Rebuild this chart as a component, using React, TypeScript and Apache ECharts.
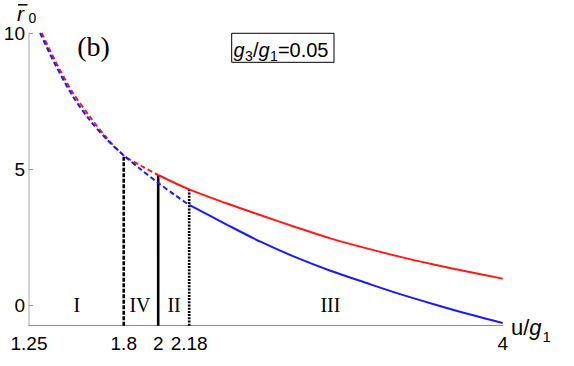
import React, { useEffect, useRef } from "react";
import * as echarts from "echarts";

// ---- data ----
const redU = [1.324, 1.4, 1.5, 1.6, 1.7, 1.8, 1.9, 2.0, 2.18, 2.4, 2.6, 2.8, 3.0, 3.2, 3.4, 3.6, 3.8, 4.0];
const redV = [10, 9.0, 7.85, 6.95, 6.15, 5.5, 5.12, 4.78, 4.25, 3.73, 3.29, 2.86, 2.45, 2.1, 1.78, 1.49, 1.22, 0.97];
const blueU = [1.314, 1.4, 1.5, 1.6, 1.7, 1.8, 1.9, 2.0, 2.1, 2.18, 2.4, 2.6, 2.8, 3.0, 3.2, 3.4, 3.6, 3.8, 4.0];
const blueV = [10, 8.87, 7.72, 6.82, 6.1, 5.5, 4.98, 4.49, 4.03, 3.68, 2.95, 2.31, 1.75, 1.26, 0.83, 0.41, 0.03, -0.33, -0.66];
const redSolidFrom = 2.0;
const blueSolidFrom = 2.18;

const boundaryU = [1.8, 2.0, 2.18];
const boundaryTop = [5.5, 4.78, 4.25];
const regionNames = ["I", "IV", "II", "III"];
const regionU = [1.527, 1.894, 2.092, 3.0];
const regionV = [0, 0, 0, 0];

const xTicks = [1.25, 1.8, 2, 2.18, 4];
const yTicks = [0, 5, 10];
const xMin = 1.25;
const xMax = 4;
const yMin = -0.76;
const yMax = 10;

function pairs(us: number[], vs: number[], lo: number, hi: number) {
  const out: number[][] = [];
  us.forEach((u, i) => {
    if (u >= lo - 1e-9 && u <= hi + 1e-9) out.push([u, vs[i]]);
  });
  return out;
}

function measure(text: string, font: string) {
  const c = document.createElement("canvas").getContext("2d")!;
  c.font = font;
  return c.measureText(text).width;
}

export default function App() {
  const ref = useRef<HTMLDivElement>(null);
  useEffect(() => {
    if (!ref.current) return;
    const chart = echarts.init(ref.current, undefined, { renderer: "svg" });
    const sans = "Liberation Sans";
    const serif = "Liberation Serif";

    const boxPieces = [
      { t: "g", size: 20, italic: true, sub: false },
      { t: "3", size: 14, italic: false, sub: true },
      { t: "/", size: 20, italic: false, sub: false },
      { t: "g", size: 20, italic: true, sub: false },
      { t: "1", size: 14, italic: false, sub: true },
      { t: "=0.05", size: 20, italic: false, sub: false },
    ];
    let bx = 233.5;
    const boxTexts: any[] = [];
    boxPieces.forEach((p) => {
      const font = `${p.italic ? "italic " : ""}${p.size}px "${sans}"`;
      const w = measure(p.t, font);
      boxTexts.push({
        type: "text",
        x: bx,
        y: p.sub ? 60.5 - 0.35 * p.size : 57.3 - 0.35 * p.size,
        style: {
          text: p.t,
          fontSize: p.size,
          fontFamily: sans,
          fontStyle: p.italic ? "italic" : "normal",
          fill: "#000",
          verticalAlign: "middle",
          align: "left",
        },
      });
      bx += w + (p.italic ? 0.5 : 0);
    });

    const uW = measure("u/", `22px "${sans}"`);
    const gW = measure("g", `italic 22px "${sans}"`);

    const lineSeries = (data: number[][], color: string, dashed: boolean) => ({
      type: "line",
      data,
      smooth: 0.3,
      symbol: "none",
      silent: true,
      lineStyle: { color, width: 2, type: dashed ? [5, 3] : "solid" },
      z: 3,
    });

    const boundaryStyles: any[] = [[4, 1.5], "solid", [2, 1.2]];

    const series: any[] = [
      lineSeries(pairs(redU, redV, 0, redSolidFrom), "#ff1a1a", true),
      lineSeries(pairs(redU, redV, redSolidFrom, 99), "#ff1a1a", false),
      lineSeries(pairs(blueU, blueV, 0, blueSolidFrom), "#1a1aff", true),
      lineSeries(pairs(blueU, blueV, blueSolidFrom, 99), "#1a1aff", false),
      ...boundaryU.map((u, i) => ({
        type: "line",
        data: [
          [u, yMin],
          [u, boundaryTop[i]],
        ],
        symbol: "none",
        silent: true,
        lineStyle: { color: "#000", width: 2.6, type: boundaryStyles[i] },
        z: 2,
      })),
      {
        type: "scatter",
        symbolSize: 0.5,
        itemStyle: { color: "#ffffff", opacity: 1 },
        silent: true,
        z: 1,
        data: regionNames.map((n, i) => ({ name: n, value: [regionU[i], regionV[i]] })),
        label: {
          show: true,
          position: "inside",
          formatter: (p: any) => p.name,
          fontFamily: serif,
          fontSize: 20,
          color: "#000",
          opacity: 1,
        },
      },
    ];

    chart.setOption({
      animation: false,
      grid: { left: 29, right: 71.3, top: 33, bottom: 40.3, containLabel: false, outerBoundsMode: "none" },
      xAxis: {
        type: "value",
        min: xMin,
        max: xMax,
        axisLine: { show: true, onZero: false, lineStyle: { color: "#8c8c8c", width: 1.2 } },
        axisTick: { show: false },
        splitLine: { show: false },
        axisLabel: {
          customValues: xTicks,
          formatter: (v: number) => String(v),
          fontFamily: sans,
          fontSize: 19,
          color: "#000",
          margin: 8.5,
        },
      },
      yAxis: {
        type: "value",
        min: yMin,
        max: yMax,
        axisLine: { show: true, onZero: false, lineStyle: { color: "#c4c4c4", width: 1.5 } },
        axisTick: { show: true, customValues: yTicks, inside: true, length: 4, lineStyle: { color: "#999" } },
        splitLine: { show: false },
        axisLabel: {
          customValues: yTicks,
          formatter: (v: number) => String(v),
          fontFamily: sans,
          fontSize: 19,
          lineHeight: 17,
          color: "#000",
          margin: 4,
        },
      },
      series,
      graphic: [
        {
          type: "text",
          x: 17,
          y: 20.5 - 0.35 * 21,
          style: { text: "r", fontSize: 21, lineHeight: 14, fontFamily: sans, fontStyle: "italic", fill: "#000", verticalAlign: "middle" },
        },
        { type: "line", shape: { x1: 18, y1: 4.8, x2: 27.5, y2: 4.8 }, style: { stroke: "#000", lineWidth: 1.5 } },
        {
          type: "text",
          x: 28.5,
          y: 23 - 0.35 * 14,
          style: { text: "0", fontSize: 14, lineHeight: 12, fontFamily: sans, fill: "#000", verticalAlign: "middle" },
        },
        {
          type: "text",
          x: 93.5,
          y: 46,
          style: { text: "(b)", fontSize: 28, fontFamily: serif, fill: "#000", align: "center", verticalAlign: "middle" },
        },
        {
          type: "rect",
          shape: { x: 231.7, y: 33.3, width: 102.3, height: 29 },
          style: { fill: "#fff", stroke: "#000", lineWidth: 1 },
        },
        ...boxTexts,
        {
          type: "text",
          x: 511,
          y: 335 - 0.35 * 22,
          style: { text: "u/", fontSize: 22, fontFamily: sans, fill: "#000", verticalAlign: "middle" },
        },
        {
          type: "text",
          x: 511 + uW,
          y: 335 - 0.35 * 22,
          style: { text: "g", fontSize: 22, fontFamily: sans, fontStyle: "italic", fill: "#000", verticalAlign: "middle" },
        },
        {
          type: "text",
          x: 511 + uW + gW + 1,
          y: 342 - 0.35 * 15,
          style: { text: "1", fontSize: 15, fontFamily: sans, fill: "#000", verticalAlign: "middle" },
        },
      ],
    });
    return () => chart.dispose();
  }, []);
  return <div ref={ref} style={{ position: "fixed", left: 0, top: 0, width: 574, height: 366, background: "#fff" }} />;
}
